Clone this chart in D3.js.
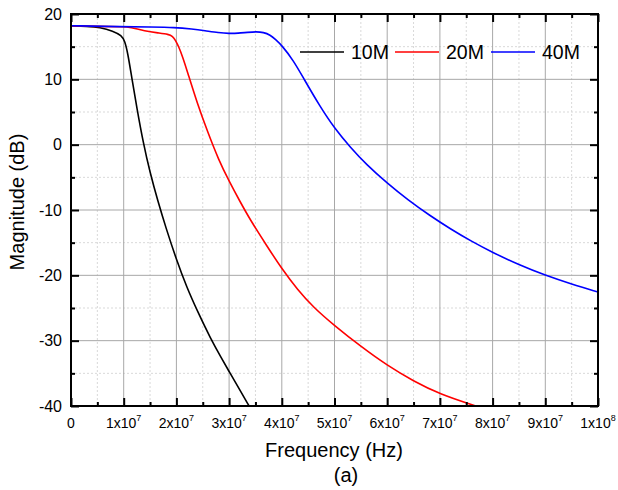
<!DOCTYPE html>
<html>
<head>
<meta charset="utf-8">
<script src="https://cdn.jsdelivr.net/npm/d3@7"></script>
<style>
  html, body { margin: 0; padding: 0; background: #fff; }
  svg { display: block; font-family: "Liberation Sans", Arial, sans-serif; }
</style>
</head>
<body>
<svg id="chart" width="618" height="490"></svg>
<script>
// ---- data (frequency in Hz, magnitude in dB) ----
const seriesNames = ["10M", "20M", "40M"];
const seriesColors = ["#000000", "#ff0000", "#0000ff"];

const freq10M = [0, 0.3e7, 0.55e7, 0.8e7, 0.96e7, 1.02e7, 1.08e7, 1.15e7, 1.25e7, 1.37e7, 1.5e7, 1.65e7, 1.8e7, 2.0e7, 2.2e7, 2.4e7, 2.65e7, 2.85e7, 3.02e7, 3.2e7, 3.38e7];
const mag10M  = [18.2, 18.1, 17.95, 17.4, 16.7, 15.9, 13.9, 10.4, 5.6, 0.3, -4.3, -8.7, -12.7, -17.6, -21.9, -25.5, -29.7, -32.6, -35.0, -37.5, -40.0];

const freq20M = [0, 0.5e7, 1.0e7, 1.12e7, 1.4e7, 1.66e7, 1.85e7, 1.93e7, 1.98e7, 2.05e7, 2.12e7, 2.2e7, 2.4e7, 2.6e7, 2.8e7, 3.0e7, 3.2e7, 3.4e7, 3.7e7, 4.0e7, 4.3e7, 4.6e7, 5.0e7, 5.5e7, 6.0e7, 6.5e7, 7.0e7, 7.68e7];
const mag20M  = [18.2, 18.1, 18.05, 18.0, 17.4, 17.1, 16.9, 16.6, 16.0, 14.9, 13.4, 11.4, 6.2, 1.8, -2.3, -5.6, -8.6, -11.5, -15.3, -19.0, -22.2, -24.9, -27.7, -30.9, -33.8, -36.2, -38.2, -40.0];

const freq40M = [0, 1.0e7, 1.5e7, 1.97e7, 2.3e7, 2.54e7, 2.8e7, 3.0e7, 3.17e7, 3.35e7, 3.52e7, 3.65e7, 3.78e7, 3.88e7, 4.0e7, 4.22e7, 4.41e7, 4.72e7, 5.0e7, 5.3e7, 5.6e7, 6.0e7, 6.4e7, 6.8e7, 7.2e7, 7.6e7, 8.0e7, 8.5e7, 9.0e7, 9.5e7, 10.0e7];
const mag40M  = [18.2, 18.05, 18.0, 17.95, 17.7, 17.45, 17.15, 17.0, 17.05, 17.2, 17.3, 17.2, 16.8, 16.1, 15.2, 12.9, 10.2, 5.9, 2.5, -0.4, -3.0, -5.9, -8.5, -10.8, -12.9, -14.8, -16.5, -18.4, -20.0, -21.35, -22.55];

const xTicks = [0, 1e7, 2e7, 3e7, 4e7, 5e7, 6e7, 7e7, 8e7, 9e7, 1e8];
const xMinorTicks = [0.5e7, 1.5e7, 2.5e7, 3.5e7, 4.5e7, 5.5e7, 6.5e7, 7.5e7, 8.5e7, 9.5e7];
const yTicks = [-40, -30, -20, -10, 0, 10, 20];
const yMinorTicks = [-35, -25, -15, -5, 5, 15];
const xTitle = "Frequency (Hz)";
const yTitle = "Magnitude (dB)";
const caption = "(a)";

// ---- layout ----
const W = 618, H = 490;
const m = { left: 71, top: 14, right: 20, bottom: 84 };
const pw = W - m.left - m.right, ph = H - m.top - m.bottom;

const svg = d3.select("#chart");
const x = d3.scaleLinear().domain([0, 1e8]).range([m.left, m.left + pw]);
const y = d3.scaleLinear().domain([-40, 20]).range([m.top + ph, m.top]);

svg.append("defs").append("clipPath").attr("id", "clip")
  .append("rect").attr("x", m.left).attr("y", m.top).attr("width", pw).attr("height", ph);

// minor grid
const grid = svg.append("g");
grid.selectAll(".xmg").data(xMinorTicks).join("line")
  .attr("x1", d => x(d)).attr("x2", d => x(d)).attr("y1", m.top).attr("y2", m.top + ph)
  .attr("stroke", "#d9d9d9").attr("stroke-width", 1).attr("stroke-dasharray", "2,2");
grid.selectAll(".ymg").data(yMinorTicks).join("line")
  .attr("y1", d => y(d)).attr("y2", d => y(d)).attr("x1", m.left).attr("x2", m.left + pw)
  .attr("stroke", "#d9d9d9").attr("stroke-width", 1).attr("stroke-dasharray", "2,2");
// major grid
grid.selectAll(".xg").data(xTicks.slice(1, -1)).join("line")
  .attr("x1", d => x(d)).attr("x2", d => x(d)).attr("y1", m.top).attr("y2", m.top + ph)
  .attr("stroke", "#a8a8a8").attr("stroke-width", 1);
grid.selectAll(".yg").data(yTicks.slice(1, -1)).join("line")
  .attr("y1", d => y(d)).attr("y2", d => y(d)).attr("x1", m.left).attr("x2", m.left + pw)
  .attr("stroke", "#a8a8a8").attr("stroke-width", 1);

// curves
const line = d3.line().x(d => x(d[0])).y(d => y(d[1])).curve(d3.curveBasis);
const allSeries = [
  d3.zip(freq10M, mag10M),
  d3.zip(freq20M, mag20M),
  d3.zip(freq40M, mag40M)
];
const curves = svg.append("g").attr("clip-path", "url(#clip)");
allSeries.forEach((s, i) => {
  curves.append("path").datum(s).attr("d", line)
    .attr("fill", "none").attr("stroke", seriesColors[i]).attr("stroke-width", 1.6);
});

// axes (ticks inward)
const fsTick = 16;
const xAxisB = d3.axisBottom(x).tickValues(xTicks).tickSize(-8).tickFormat("");
const xAxisBm = d3.axisBottom(x).tickValues(xMinorTicks).tickSize(-4).tickFormat("");
const xAxisT = d3.axisTop(x).tickValues(xTicks).tickSize(-8).tickFormat("");
const xAxisTm = d3.axisTop(x).tickValues(xMinorTicks).tickSize(-4).tickFormat("");
const yAxisL = d3.axisLeft(y).tickValues(yTicks).tickSize(-8).tickFormat("");
const yAxisLm = d3.axisLeft(y).tickValues(yMinorTicks).tickSize(-4).tickFormat("");
const yAxisR = d3.axisRight(y).tickValues(yTicks).tickSize(-8).tickFormat("");
const yAxisRm = d3.axisRight(y).tickValues(yMinorTicks).tickSize(-4).tickFormat("");

function styleAxis(g) {
  g.select(".domain").remove();
  g.selectAll(".tick line").attr("stroke", "#000").attr("stroke-width", 2);
}
svg.append("g").attr("transform", `translate(0,${m.top + ph})`).call(xAxisB).call(styleAxis);
svg.append("g").attr("transform", `translate(0,${m.top + ph})`).call(xAxisBm).call(styleAxis);
svg.append("g").attr("transform", `translate(0,${m.top})`).call(xAxisT).call(styleAxis);
svg.append("g").attr("transform", `translate(0,${m.top})`).call(xAxisTm).call(styleAxis);
svg.append("g").attr("transform", `translate(${m.left},0)`).call(yAxisL).call(styleAxis);
svg.append("g").attr("transform", `translate(${m.left},0)`).call(yAxisLm).call(styleAxis);
svg.append("g").attr("transform", `translate(${m.left + pw},0)`).call(yAxisR).call(styleAxis);
svg.append("g").attr("transform", `translate(${m.left + pw},0)`).call(yAxisRm).call(styleAxis);

// frame
svg.append("rect").attr("x", m.left).attr("y", m.top).attr("width", pw).attr("height", ph)
  .attr("fill", "none").attr("stroke", "#000").attr("stroke-width", 2);

// x tick labels
const xl = svg.append("g").attr("font-size", 14).attr("fill", "#000");
xTicks.forEach(d => {
  const t = xl.append("text").attr("x", x(d)).attr("y", m.top + ph + 22).attr("text-anchor", "middle");
  if (d === 0) { t.text("0"); return; }
  const e = Math.floor(Math.log10(d) + 1e-9);
  const mant = Math.round(d / Math.pow(10, e));
  t.append("tspan").text(mant + "x10");
  t.append("tspan").attr("font-size", 9).attr("dy", -7).text(e);
});

// y tick labels
svg.append("g").selectAll("text").data(yTicks).join("text")
  .attr("x", m.left - 9).attr("y", d => y(d)).attr("dy", "0.35em")
  .attr("text-anchor", "end").attr("font-size", fsTick).text(d => d);

// titles
svg.append("text").attr("x", 334).attr("y", 457).attr("text-anchor", "middle")
  .attr("font-size", 20).text(xTitle);
svg.append("text").attr("transform", `translate(24,202) rotate(-90)`).attr("text-anchor", "middle")
  .attr("font-size", 20).text(yTitle);
svg.append("text").attr("x", 346).attr("y", 482).attr("text-anchor", "middle")
  .attr("font-size", 20).text(caption);

// legend
const legX = [300, 395, 491];
const legY = 52;
const leg = svg.append("g");
seriesNames.forEach((n, i) => {
  leg.append("line").attr("x1", legX[i]).attr("x2", legX[i] + 44).attr("y1", legY).attr("y2", legY)
    .attr("stroke", seriesColors[i]).attr("stroke-width", 1.6);
  leg.append("text").attr("x", legX[i] + 51).attr("y", legY).attr("dy", "0.35em")
    .attr("font-size", 19.5).text(n);
});
</script>
</body>
</html>
